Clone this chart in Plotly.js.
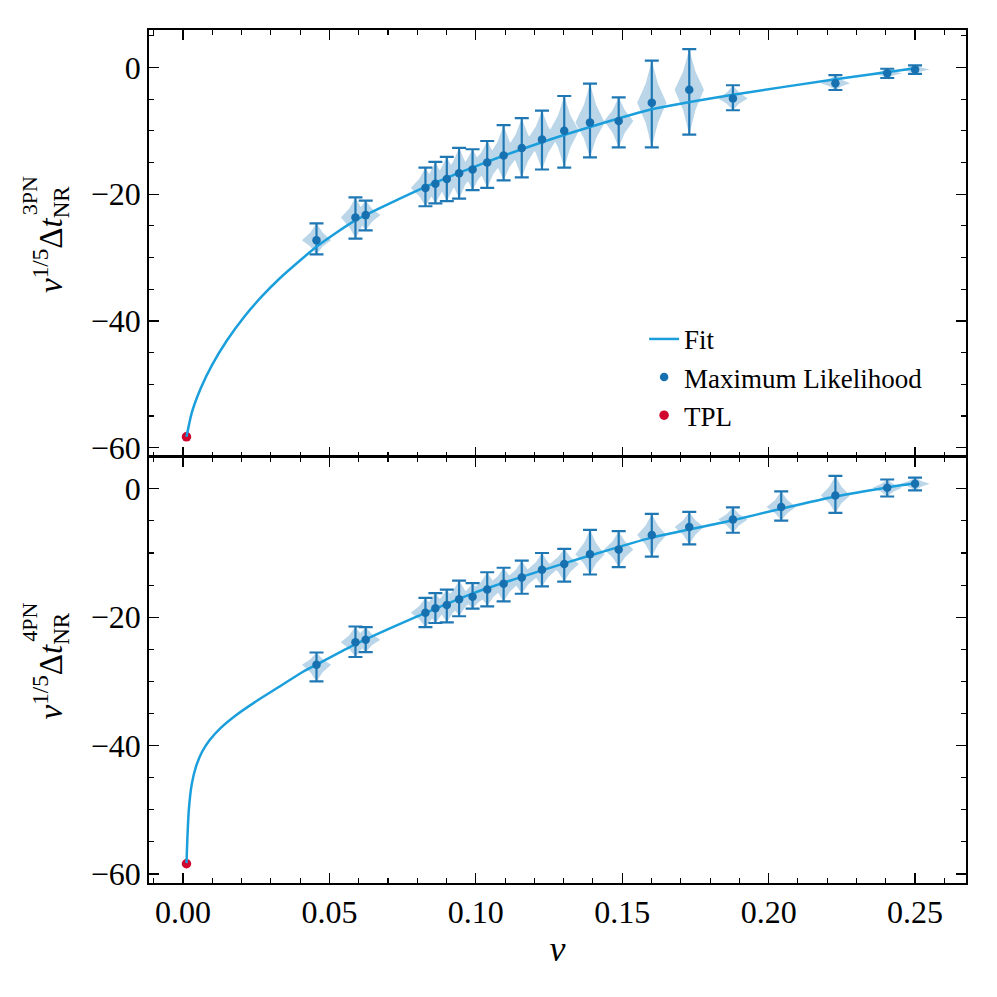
<!DOCTYPE html>
<html>
<head>
<meta charset="utf-8">
<script src="https://cdn.plot.ly/plotly-3.0.1.min.js"></script>
<style>
  html, body { margin: 0; padding: 0; background: #fff; }
  #plot { width: 997px; height: 997px; }
</style>
</head>
<body>
<div id="plot"></div>
<script>
// symmetric mass ratio of every run (upper panel: 3PN, lower panel: 4PN)
const nu3 = [0.0456, 0.0589, 0.0624, 0.0828, 0.0862, 0.0901, 0.0943, 0.0989, 0.1039, 0.1095, 0.1157,
  0.1226, 0.1302, 0.1390, 0.1488, 0.1601, 0.1729, 0.1878, 0.2228, 0.2405, 0.2500];
const ml3 = [-27.25, -23.67, -23.3, -19.0, -18.35, -17.6, -16.7, -16.1, -15.0, -13.9, -12.7,
  -11.35, -10.0, -8.7, -8.45, -5.55, -3.5, -4.9, -2.5, -0.92, -0.3];
const hi3 = [-24.6, -20.5, -21.0, -15.8, -14.9, -14.1, -12.7, -12.9, -11.6, -9.1, -8.0,
  -6.8, -4.5, -2.55, -4.7, 1.1, 2.9, -2.8, -1.2, -0.2, 0.35];
const lo3 = [-29.5, -27.0, -25.7, -21.9, -21.45, -21.1, -20.7, -19.35, -19.0, -17.8, -17.35,
  -16.1, -15.8, -14.2, -12.6, -12.6, -10.6, -6.75, -3.55, -1.66, -1.0];

const nu4 = [0.0456, 0.0589, 0.0624, 0.0828, 0.0862, 0.0901, 0.0943, 0.0989, 0.1039, 0.1095, 0.1157,
  0.1226, 0.1302, 0.1390, 0.1488, 0.1601, 0.1729, 0.1878, 0.2043, 0.2228, 0.2405, 0.2500];
const ml4 = [-27.4, -23.9, -23.5, -19.3, -18.6, -18.1, -17.2, -16.8, -15.7, -14.8, -13.8,
  -12.6, -11.7, -10.2, -9.45, -7.2, -5.95, -4.8, -2.85, -1.05, 0.15, 0.8];
const hi4 = [-25.5, -21.45, -21.55, -17.0, -16.25, -15.7, -14.3, -14.7, -13.0, -12.3, -11.2,
  -10.0, -9.35, -6.4, -6.6, -3.9, -3.6, -2.9, -0.4, 2.0, 1.45, 1.75];
const lo4 = [-30.0, -26.2, -25.45, -21.55, -20.9, -20.8, -19.85, -18.65, -18.3, -17.55, -16.35,
  -15.2, -14.45, -13.35, -12.2, -10.55, -8.65, -6.85, -4.95, -3.75, -1.2, -0.25];

// test-particle limit
const nuTPL = [0.0012];
const tpl3 = [-58.3];
const tpl4 = [-58.4];

// fitted curves
const fitNu3 = [0.0012, 0.003, 0.006, 0.010, 0.015, 0.021, 0.027, 0.033, 0.0456, 0.059, 0.083,
  0.101, 0.1226, 0.139, 0.160, 0.1878, 0.2228, 0.250];
const fitY3 = [-58.3, -54.5, -50.7, -46.9, -43.1, -39.3, -36.1, -33.3, -28.3, -24.1, -18.8,
  -15.4, -11.8, -9.4, -6.6, -4.3, -1.86, -0.13];
const fitNu4 = [0.0012, 0.0015, 0.002, 0.003, 0.0045, 0.0065, 0.009, 0.013, 0.018, 0.025, 0.033,
  0.041, 0.0456, 0.059, 0.083, 0.0995, 0.1226, 0.139, 0.160, 0.1878, 0.2043, 0.2228, 0.2405, 0.250];
const fitY4 = [-58.3, -54.5, -50.0, -46.0, -43.2, -41.0, -39.2, -37.2, -35.3, -33.1, -30.8,
  -28.5, -27.4, -24.2, -19.3, -16.2, -12.7, -10.4, -7.6, -4.9, -3.1, -1.2, 0.2, 0.85];

const C_ERR = "#1f77b4";
const C_FIT = "#1a9fdc";
const C_TPL = "#d0062e";
const FONT = "Liberation Serif, Times New Roman, serif";
const HALF_W = 0.005; // half width of each violin, in nu

// violin-like outline around each point, from its error interval
function violins(nu, ml, hi, lo) {
  const xs = [], ys = [];
  for (let i = 0; i < nu.length; i++) {
    const x = nu[i], m = ml[i];
    const up = m + 0.45 * (hi[i] - m), dn = m - 0.45 * (m - lo[i]);
    const k = 0.42 * HALF_W;
    xs.push(x, x + k, x + HALF_W, x + k, x, x - k, x - HALF_W, x - k, x, null);
    ys.push(hi[i], up, m, dn, lo[i], dn, m, up, hi[i], null);
  }
  return { xs, ys };
}

function panelTraces(nu, ml, hi, lo, tpl, fx, fy, xa, ya, legend) {
  const v = violins(nu, ml, hi, lo);
  return [
    {
      x: v.xs, y: v.ys, type: "scatter", mode: "lines", fill: "toself",
      fillcolor: "rgba(31,119,180,0.3)", line: { width: 0 },
      xaxis: xa, yaxis: ya, showlegend: false, hoverinfo: "skip",
    },
    {
      x: nuTPL, y: tpl, type: "scatter", mode: "markers", name: "TPL",
      marker: { color: C_TPL, size: 9.5 }, xaxis: xa, yaxis: ya,
      showlegend: legend, legendrank: 3,
    },
    {
      x: nu, y: ml, type: "scatter", mode: "markers",
      marker: { color: C_ERR, size: 1, opacity: 0 },
      error_y: {
        type: "data", symmetric: false,
        array: hi.map((h, i) => h - ml[i]),
        arrayminus: lo.map((l, i) => ml[i] - l),
        color: C_ERR, thickness: 2.2, width: 7,
      },
      xaxis: xa, yaxis: ya, showlegend: false,
    },
    {
      x: fx, y: fy, type: "scatter", mode: "lines", name: "Fit",
      line: { color: C_FIT, width: 2.5, shape: "spline", smoothing: 0.6 },
      xaxis: xa, yaxis: ya, showlegend: legend, legendrank: 1,
    },
    {
      x: nu, y: ml, type: "scatter", mode: "markers", name: "Maximum Likelihood",
      marker: { color: "#1771b1", size: 8.5 },
      xaxis: xa, yaxis: ya, showlegend: legend, legendrank: 2,
    },
  ];
}

const traces = [
  ...panelTraces(nu3, ml3, hi3, lo3, tpl3, fitNu3, fitY3, "x2", "y2", true),
  ...panelTraces(nu4, ml4, hi4, lo4, tpl4, fitNu4, fitY4, "x", "y", false),
];

const axisCommon = {
  showgrid: false, zeroline: false, showline: true, linecolor: "#000", linewidth: 1.8,
  mirror: "allticks", ticks: "inside", ticklen: 10, tickwidth: 1.3, tickcolor: "#000",
  tickfont: { family: FONT, size: 32, color: "#000" },
};
const minorX = { ticks: "inside", dtick: 0.01, ticklen: 5, tickwidth: 1.1, tickcolor: "#000" };
const minorY = { ticks: "inside", dtick: 5, ticklen: 5, tickwidth: 1.1, tickcolor: "#000" };

const layout = {
  width: 997, height: 997,
  margin: { l: 149, r: 31, t: 30, b: 114 },
  paper_bgcolor: "#fff", plot_bgcolor: "#fff",
  font: { family: FONT, color: "#000" },
  xaxis: {
    ...axisCommon, anchor: "y", range: [-0.0116, 0.2674], dtick: 0.05, tickformat: ".2f",
    minor: minorX,
    title: { text: "<i>ν</i>", font: { family: FONT, size: 36 }, standoff: 6 },
  },
  xaxis2: {
    ...axisCommon, anchor: "y2", matches: "x", range: [-0.0116, 0.2674], dtick: 0.05,
    showticklabels: false, minor: minorX,
  },
  yaxis: {
    ...axisCommon, anchor: "x", domain: [0, 0.5], range: [-61.4, 5.03], dtick: 20, minor: minorY,
  },
  yaxis2: {
    ...axisCommon, anchor: "x2", domain: [0.5, 1], range: [-61.4, 5.92], dtick: 20, minor: minorY,
  },
  showlegend: true,
  legend: {
    x: 0.606, y: 0.666, xanchor: "left", yanchor: "top",
    bgcolor: "rgba(0,0,0,0)", font: { family: FONT, size: 27, color: "#000" },
    traceorder: "normal",
  },
  annotations: [
    {
      xref: "paper", yref: "paper", x: -0.12, y: 0.755, xanchor: "center", yanchor: "middle",
      text: "<i>ν</i><sup>1/5</sup>Δ<i>t</i><sub>NR</sub>", textangle: -90, showarrow: false,
      font: { family: FONT, size: 33 },
    },
    {
      xref: "paper", yref: "paper", x: -0.146, y: 0.806, xanchor: "center", yanchor: "middle",
      text: "3PN", textangle: -90, showarrow: false, font: { family: FONT, size: 22 },
    },
    {
      xref: "paper", yref: "paper", x: -0.12, y: 0.255, xanchor: "center", yanchor: "middle",
      text: "<i>ν</i><sup>1/5</sup>Δ<i>t</i><sub>NR</sub>", textangle: -90, showarrow: false,
      font: { family: FONT, size: 33 },
    },
    {
      xref: "paper", yref: "paper", x: -0.146, y: 0.306, xanchor: "center", yanchor: "middle",
      text: "4PN", textangle: -90, showarrow: false, font: { family: FONT, size: 22 },
    },
  ],
};

Plotly.newPlot("plot", traces, layout, { displayModeBar: false, staticPlot: true });
</script>
</body>
</html>
